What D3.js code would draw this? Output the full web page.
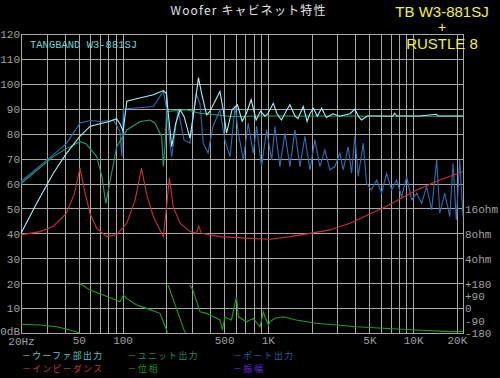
<!DOCTYPE html>
<html lang="ja">
<head>
<meta charset="UTF-8">
<title>Woofer キャビネット特性</title>
<script src="https://d3js.org/d3.v7.min.js"></script>
<style>
  body { margin: 0; background: #000; }
  svg { display: block; }
</style>
</head>
<body>
<script>
var width = 500, height = 378;

// ---- data: [Hz, dB] ----
var woofer = [[20,40],[25.6,52],[33.3,64],[41,72],[51,79],[60,83],[70,84],[82,85],[91,86],[96,84],
  [101,81],[107,93],[125,94],[163,95.6],[191,97.3],[201,96],[204,91],[218,74.8],[232,84],[249,89.6],
  [265,86.9],[291,78.2],[316,92.2],[333,102.5],[350,96.2],[379,87.5],[400,89],[432,92.9],[468,96.9],[493,89.6],
  [520,80.2],[567,89.6],[618,91.6],[666,85],[710,88],[768,93.6],[831,85.5],[890,89],[955,87],[1000,88],
  [1090,92.2],[1157,88],[1242,85.5],[1335,89],[1419,91.6],[1540,87],[1612,86],[1753,90.9],[1863,84.9],[1948,88],
  [2064,90.2],[2190,87],[2346,90.2],[2530,86.5],[2807,88],[3133,87],[3670,88],[3975,89.8],[4200,87],[4416,85.5],
  [4847,87.1],[5902,87.1],[7240,87],[7470,88.2],[7720,87.1],[11120,87.1],[14480,87.8],[14800,87.1],[22050,87.1]];

var unit = [[20,60],[33.3,70.8],[41,74],[51,76.8],[56,76],[66.4,70.8],[72.1,62.8],[76.7,52],[80.7,58.8],
  [91.2,74.8],[107,81.5],[132,84.9],[154.5,85.5],[167.5,84.2],[186,78.8],[191,66.8],[196,75],[201,88.9],
  [276,89.6],[341,88.2],[567,86.9],[883,87.1],[22050,87]];

var port = [[20,60.8],[33.3,71.5],[41,76],[51,84.3],[60,85.3],[70,84.9],[86.5,85.5],[96,80.8],[98.8,70.8],
  [101.3,89.6],[107,90],[163,90.9],[191,97],[201,90],[212,76],[218,70.8],[241,89.6],[265,77.5],[291,76.2],
  [320,96.2],[341,92.2],[359,76.2],[388,72.2],[419,82.9],[468,89.6],[506,77.5],[549,70.8],[595,90.9],[627,80.2],
  [678,69.5],[733,84.2],[793,72.2],[837,82.9],[905,66.8],[981,81.5],[1062,69.5],[1118,82.9],[1211,66.8],[1311,80.2],
  [1419,66.8],[1536,81.5],[1663,66.8],[1800,78.9],[1948,65.5],[2109,77.5],[2282,66.8],[2470,73.5],[2674,65.5],
  [2895,66.8],[3133,72.2],[3302,65.5],[3575,74.8],[3770,64.1],[3975,78.9],[4190,62.8],[4536,76.2],[4780,60.1],
  [5178,57.4],[5605,61.4],[6070,56.1],[6572,64.1],[7115,57.4],[7700,61.4],[8340,54.7],[9030,62.8],[9770,53.4],
  [10580,56.1],[11450,52.1],[12400,58.8],[13420,49.4],[14530,69.5],[15260,48.1],[16520,56.1],[17880,46.7],
  [18830,68.1],[19830,45.4],[20950,69.5],[22050,46.7]];

// impedance [Hz, ohm]
var impedance = [[20,7.67],[27,8.39],[33.3,9.7],[41,13.9],[46.7,24.3],[50.9,49.2],[55.3,24.3],[59.7,13.9],
  [66.4,9.19],[77.9,7.3],[91.2,7.67],[107,10.6],[122,20.2],[135,49.2],[146,24.3],[163,12.7],[186,8],[191,7.3],
  [201,16.8],[210,37.5],[223,16.8],[249,10.6],[291,8.39],[323,8],[334,9.85],[350,8],[468,7.3],[753,6.96],
  [1034,6.78],[1419,7.3],[1948,8],[2674,8.8],[3670,10.6],[6460,16.8],[10580,26.7],[15260,35.2],[22050,44.6]];

// phase [Hz, deg], null = wrap
var phase = [[20,-117],[27,-122],[35.3,-135],[43.5,-158],[50.9,-180], null,
  [50.9,178],[59.7,130],[73.7,94],[96,45],[101.3,94],[106.8,70],[125,22],[146.4,-2],[181,-38],[201,-158],[203,-180], null,
  [206,166],[265,-158],[272,-180], null,
  [291,166],[305,130],[341,-27],[379,-38],[468,-86],[487,-158],[506,-67],[562,-86],[608,81],[627,-63],[715,-99],
  [793,-74],[883,-135],[931,-27],[955,-63],[1010,-122],[1034,-99],[1118,-74],[1275,-63],[1570,-86],[2145,-110],
  [2974,-122],[4081,-135],[6222,-146],[10555,-158],[17880,-170],[22050,-168]];

var gridFreqs = [20,30,40,50,60,70,80,90,100,200,300,400,500,600,700,800,900,
  1000,2000,3000,4000,5000,6000,7000,8000,9000,10000,20000];
var freqLabels = {20:"20Hz",50:"50",100:"100",500:"500",1000:"1K",5000:"5K",10000:"10K",20000:"20K"};
var dbTicks = d3.range(0, 121, 10);
var rightLabels = {50:"16ohm",40:"8ohm",30:"4ohm",20:"+180",15:"+90",10:"0",5:"-90",0:"-180"};
var badgeLines = [{t:"TB W3-881SJ", y:17, size:15}, {t:"+", y:31.5, size:14}, {t:"RUSTLE 8", y:49, size:15}];

var legendItems = [
  {name:"－ウーファ部出力", color:"#5ec8c8", col:0, row:0},
  {name:"－ユニット出力", color:"#1f8f5f", col:1, row:0},
  {name:"－ポート出力", color:"#1f5f9f", col:2, row:0},
  {name:"－インピーダンス", color:"#c83040", col:0, row:1},
  {name:"－位相", color:"#1a9a1a", col:1, row:1},
  {name:"－振幅", color:"#6a28d8", col:2, row:1}
];

// ---- scales ----
var x = d3.scaleLog().domain([20, 22050]).range([21, 463]);
var y = d3.scaleLinear().domain([0, 120]).range([333, 34]);
var yImp = d3.scaleLog().base(2).domain([8, 16]).range([y(40), y(50)]);
var yPh = d3.scaleLinear().domain([-180, 180]).range([y(0), y(20)]);

var svg = d3.select('body').append('svg').attr('width', width).attr('height', height);
svg.append('rect').attr('width', width).attr('height', height).attr('fill', '#000');

var monoFont = '"Liberation Mono", "DejaVu Sans Mono", monospace';
var gridCol = '#a8a8a8', labelCol = '#a0a0a0';

// grid + axes
var gx = svg.append('g').attr('transform', 'translate(0,333)')
  .call(d3.axisBottom(x).tickValues(gridFreqs).tickSize(-299).tickPadding(3)
    .tickFormat(function (d) { return freqLabels[d] || ""; }));
var gy = svg.append('g').attr('transform', 'translate(21,0)')
  .call(d3.axisLeft(y).tickValues(dbTicks).tickSize(-442).tickPadding(1)
    .tickFormat(function (d) { return d === 0 ? "0dB" : d; }));
var gr = svg.append('g').attr('transform', 'translate(463,0)')
  .call(d3.axisRight(y).tickValues([50,40,30,20,15,10,5,0]).tickSize(0).tickPadding(2)
    .tickFormat(function (d) { return rightLabels[d]; }));

[gx, gy, gr].forEach(function (g) {
  g.select('.domain').remove();
  g.selectAll('line').attr('stroke', gridCol).attr('shape-rendering', 'crispEdges');
  g.selectAll('text').attr('fill', labelCol).style('font-family', monoFont).style('font-size', '11px');
});
gy.selectAll('text').attr('dy', '0.35em');
gr.selectAll('text').attr('dy', '0.35em');
// bottom-left corner: keep "0dB" clear of "20Hz"
gy.selectAll('text').filter(function (d) { return d === 0; }).attr('dy', '0.1em');
gx.selectAll('text').filter(function (d) { return d === 20; }).attr('dy', '0.85em');

svg.append('rect').attr('x', 21.5).attr('y', 34.5).attr('width', 442).attr('height', 299)
  .attr('fill', 'none').attr('stroke', gridCol).attr('shape-rendering', 'crispEdges');

// curves
var lineDb = d3.line().x(function (d) { return x(d[0]); }).y(function (d) { return y(d[1]); });
var lineImp = d3.line().x(function (d) { return x(d[0]); }).y(function (d) { return yImp(d[1]); });
var linePh = d3.line().defined(function (d) { return d; })
  .x(function (d) { return x(d[0]); }).y(function (d) { return yPh(d[1]); });

var plot = svg.append('g').attr('fill', 'none').attr('stroke-width', 1.1);
plot.append('path').attr('d', linePh(phase)).attr('stroke', '#1e9e1e');
plot.append('path').attr('d', lineDb(port)).attr('stroke', '#2e6eae');
plot.append('path').attr('d', lineImp(impedance)).attr('stroke', '#c8303c');
plot.append('path').attr('d', lineDb(unit)).attr('stroke', '#22a070');
plot.append('path').attr('d', lineDb(woofer)).attr('stroke', '#a4f4f2');

// texts
svg.append('text').attr('x', 30).attr('y', 48).text('TANGBAND W3-881SJ')
  .attr('fill', '#70d4d0').style('font-family', monoFont).style('font-size', '10.5px');

svg.append('text').attr('x', 248).attr('y', 15).attr('text-anchor', 'middle')
  .attr('textLength', 155).attr('lengthAdjust', 'spacing')
  .text('Woofer キャビネット特性').attr('fill', '#e0e0e0')
  .style('font-family', '"Noto Sans CJK JP", sans-serif').style('font-size', '12px');

// yellow model badge
svg.selectAll('.badge').data(badgeLines).join('text').attr('class', 'badge')
  .attr('x', 442).attr('y', function (d) { return d.y; })
  .attr('text-anchor', 'middle').attr('fill', '#f4f430')
  .style('font-family', '"Liberation Sans", Arial, sans-serif')
  .style('font-size', function (d) { return d.size + 'px'; })
  .text(function (d) { return d.t; });

// legend
svg.selectAll('.leg').data(legendItems).join('text').attr('class', 'leg')
  .attr('x', function (d) { return 22 + d.col * 105.5; })
  .attr('y', function (d) { return 359 + d.row * 13; })
  .attr('textLength', function (d) { return d.name.length * 10; })
  .attr('lengthAdjust', 'spacing')
  .text(function (d) { return d.name; })
  .attr('fill', function (d) { return d.color; })
  .style('font-family', '"Noto Sans CJK JP", sans-serif').style('font-size', '8.8px');
</script>
</body>
</html>
